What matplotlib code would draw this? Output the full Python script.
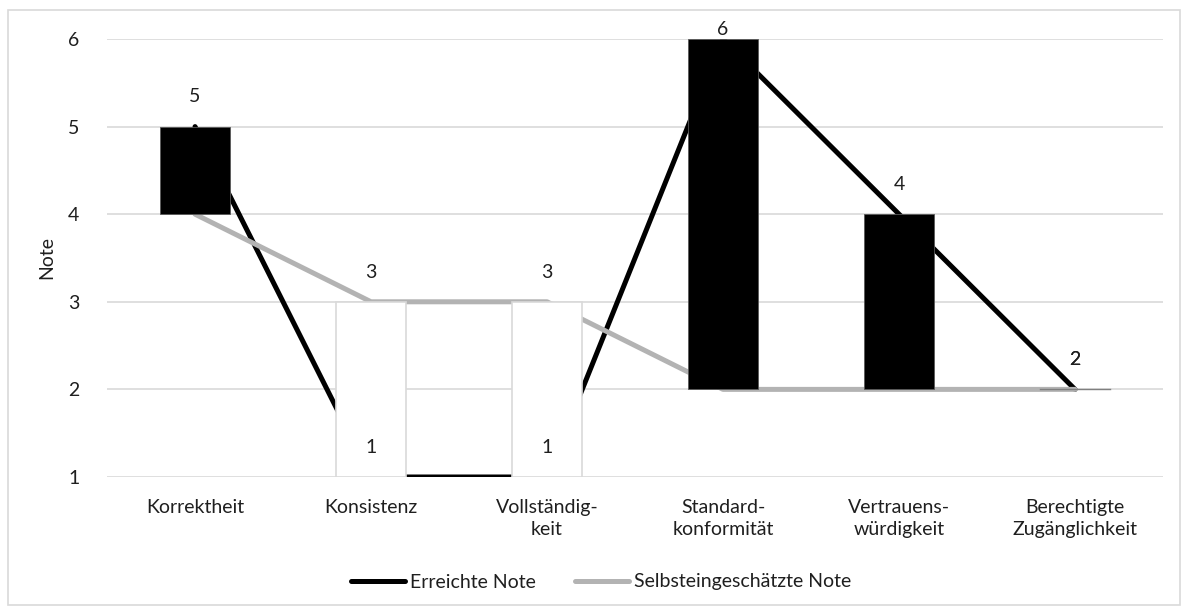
import matplotlib
matplotlib.use("Agg")
import matplotlib.pyplot as plt
from matplotlib.patches import Rectangle
from matplotlib.lines import Line2D
import numpy as np

categories = ["Korrektheit", "Konsistenz", "Vollständig-\nkeit", "Standard-\nkonformität",
              "Vertrauens-\nwürdigkeit", "Berechtigte\nZugänglichkeit"]
erreicht = [5, 1, 1, 6, 4, 2]
selbst = [4, 3, 3, 2, 2, 2]
selbst_labelled = [False, True, True, False, False, True]
y_ticks = [1, 2, 3, 4, 5, 6]

plt.rcParams['font.family'] = ['Lato', 'DejaVu Sans']
FS = 14
TXT = "#1f1f1f"

fig = plt.figure(figsize=(11.88, 6.12), dpi=100)
ax = fig.add_axes([0.0901, 0.2206, 0.979 - 0.0901, 0.9363 - 0.2206])

x = np.arange(len(categories))
grid_c = "#d9d9d9"
gray = "#b3b3b3"

ax.plot(x, erreicht, color="black", lw=3.6, solid_capstyle="round", zorder=2)
ax.plot(x, selbst, color=gray, lw=3.6, solid_capstyle="round", zorder=3)

# up/down bars between the two series
for xi, a, b in zip(x, erreicht, selbst):
    lo, hi = min(a, b), max(a, b)
    if a > b:
        ax.bar(xi, hi - lo, bottom=lo, width=0.4, color="black", edgecolor="#595959",
               linewidth=0.6, zorder=4)
    elif a < b:
        ax.bar(xi, hi - lo, bottom=lo, width=0.4, color="white", edgecolor=grid_c,
               linewidth=1.2, zorder=4)
    else:
        ax.plot([xi - 0.2, xi + 0.2], [lo, lo], color="#7f7f7f", lw=1.0, zorder=4)

# data labels
for xi, v in zip(x, erreicht):
    yl = min(v + 0.34, 6.11)
    ax.text(xi, yl, str(v), ha="center", va="center", fontsize=FS, color=TXT, zorder=6,
            clip_on=False)
for xi, v, show in zip(x, selbst, selbst_labelled):
    if show:
        ax.text(xi, min(v + 0.34, 6.11), str(v), ha="center", va="center", fontsize=FS,
                color=TXT, zorder=6, clip_on=False)

ax.set_xlim(-0.5, len(categories) - 0.5)
ax.set_ylim(1, 6)
ax.set_yticks(y_ticks)
ax.set_xticks(x)
ax.set_xticklabels(categories, fontsize=FS, color=TXT, linespacing=1.35)
ax.tick_params(axis="both", length=0, labelsize=FS, colors=TXT)
ax.tick_params(axis="y", pad=20)
ax.tick_params(axis="x", pad=16)
ax.yaxis.grid(True, color=grid_c, lw=1.2, zorder=0)
ax.set_axisbelow(True)
for s in ax.spines.values():
    s.set_visible(False)
ax.set_ylabel("Note", fontsize=FS, color=TXT)
ax.yaxis.set_label_coords(-0.049, 0.5)

handles = [Line2D([], [], color="black", lw=3.6, solid_capstyle="round"),
           Line2D([], [], color=gray, lw=3.6, solid_capstyle="round")]
fig.legend(handles, ["Erreichte Note", "Selbsteingeschätzte Note"], loc="center",
           bbox_to_anchor=(601 / 1188, 1 - 582 / 612), ncol=2, frameon=False, fontsize=FS,
           handlelength=2.8, handletextpad=0.25, columnspacing=2.0, labelcolor=TXT)

fig.patches.append(Rectangle((8 / 1188, 1 - 605 / 612), 1172 / 1188, 595 / 612,
                             transform=fig.transFigure, fill=False, edgecolor=grid_c, lw=1.2))

fig.savefig("out.png", dpi=100, facecolor="white")
